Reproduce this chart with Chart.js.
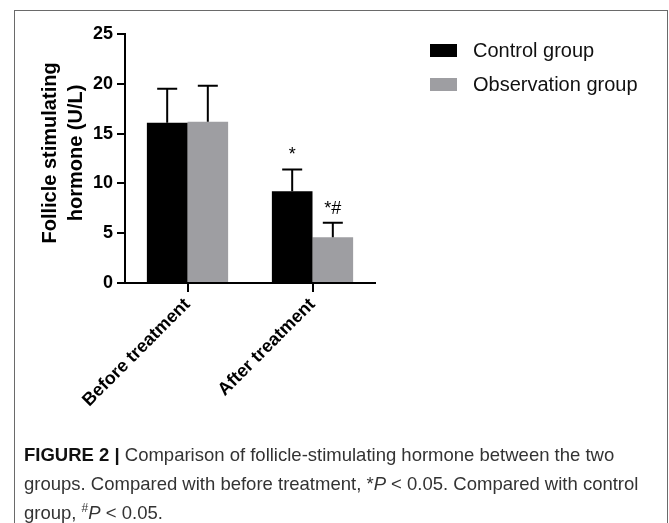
<!DOCTYPE html>
<html>
<head>
<meta charset="utf-8">
<script src="https://cdn.jsdelivr.net/npm/chart.js@4.4.1/dist/chart.umd.min.js"></script>
<style>
  html, body { margin: 0; padding: 0; background: #fff; overflow: hidden; }
  #frame {
    position: absolute; left: 14px; top: 10px; width: 654px; height: 560px;
    border: 1.5px solid #6a6a6a; box-sizing: border-box;
  }
  #wrap { position: absolute; left: 0; top: 0; width: 669px; height: 523px; }
  #caption {
    position: absolute; left: 24px; top: 440px; white-space: nowrap;
    font-family: "Liberation Sans", Arial, sans-serif;
    font-size: 18.5px; line-height: 29px; color: #333;
  }
  #caption b { color: #111; }
</style>
</head>
<body>
<div id="frame"></div>
<div id="wrap"><canvas id="fshChart"></canvas></div>
<div id="caption"><b>FIGURE 2 |</b> Comparison of follicle-stimulating hormone between the two<br>groups. Compared with before treatment, *<i>P</i> &lt; 0.05. Compared with control<br>group, <sup style="font-size:12px; line-height:0">#</sup><i>P</i> &lt; 0.05.</div>
<script>
const categories = ["Before treatment", "After treatment"];
const controlMeans = [16.1, 9.2];
const controlSD = [3.4, 2.2];
const observationMeans = [16.2, 4.6];
const observationSD = [3.6, 1.45];
const controlMarks = ["", "*"];
const observationMarks = ["", "*#"];
const yMin = 0, yMax = 25, yStep = 5;

Chart.defaults.font.family = "'Liberation Sans', Arial, sans-serif";
Chart.defaults.color = "#000";

const errorBars = {
  id: "errorBars",
  afterDatasetsDraw(chart) {
    const ctx = chart.ctx;
    const y = chart.scales.y;
    chart.data.datasets.forEach((ds, i) => {
      chart.getDatasetMeta(i).data.forEach((bar, j) => {
        const top = y.getPixelForValue(ds.data[j] + ds.errors[j]);
        ctx.save();
        ctx.strokeStyle = "#000";
        ctx.lineWidth = 2;
        ctx.beginPath();
        ctx.moveTo(bar.x, bar.y);
        ctx.lineTo(bar.x, top);
        ctx.moveTo(bar.x - 10, top);
        ctx.lineTo(bar.x + 10, top);
        ctx.stroke();
        if (ds.marks[j]) {
          ctx.fillStyle = "#000";
          ctx.font = "18px 'Liberation Sans', Arial";
          ctx.textAlign = "center";
          ctx.textBaseline = "alphabetic";
          ctx.fillText(ds.marks[j], bar.x, top - 9);
        }
        ctx.restore();
      });
    });
  }
};

const sideLegend = {
  id: "sideLegend",
  afterDraw(chart) {
    const ctx = chart.ctx;
    chart.data.datasets.forEach((ds, i) => {
      const cy = 50 + i * 34;
      ctx.save();
      ctx.fillStyle = ds.backgroundColor;
      ctx.fillRect(430, cy - 6, 27, 13);
      ctx.fillStyle = "#111";
      ctx.font = "20px 'Liberation Sans', Arial";
      ctx.textBaseline = "middle";
      ctx.fillText(ds.label, 473, cy + 1);
      ctx.restore();
    });
  }
};

new Chart(document.getElementById("fshChart").getContext("2d"), {
  type: "bar",
  data: {
    labels: categories,
    datasets: [
      {
        label: "Control group",
        data: controlMeans,
        errors: controlSD,
        marks: controlMarks,
        backgroundColor: "#000000",
        categoryPercentage: 0.65,
        barPercentage: 1
      },
      {
        label: "Observation group",
        data: observationMeans,
        errors: observationSD,
        marks: observationMarks,
        backgroundColor: "#9e9ea2",
        categoryPercentage: 0.65,
        barPercentage: 1
      }
    ]
  },
  options: {
    responsive: true,
    maintainAspectRatio: false,
    animation: false,
    layout: { padding: { left: 0, top: 34, right: 294, bottom: 0 } },
    plugins: {
      legend: { display: false },
      tooltip: { enabled: false }
    },
    scales: {
      x: {
        grid: { display: true, drawOnChartArea: false, offset: false, tickLength: 9, color: "#000", lineWidth: 2 },
        border: { color: "#000", width: 2 },
        ticks: { maxRotation: 45, minRotation: 45, padding: 2, font: { size: 18, weight: "bold" } },
        afterFit: scale => { scale.height = 240; }
      },
      y: {
        min: yMin,
        max: yMax,
        ticks: { stepSize: yStep, padding: 4, font: { size: 18, weight: "bold" } },
        grid: { display: true, drawOnChartArea: false, tickLength: 8, color: "#000", lineWidth: 2 },
        border: { color: "#000", width: 2 },
        title: {
          display: true,
          // leading spaces nudge the centred title a little upward, as in the figure
          text: ["  Follicle stimulating", "  hormone (U/L)"],
          font: { size: 20, weight: "bold", lineHeight: 1.3 },
          padding: { top: 37, bottom: 0 }
        },
        afterFit: scale => { scale.width = 125; }
      }
    }
  },
  plugins: [errorBars, sideLegend]
});
</script>
</body>
</html>
